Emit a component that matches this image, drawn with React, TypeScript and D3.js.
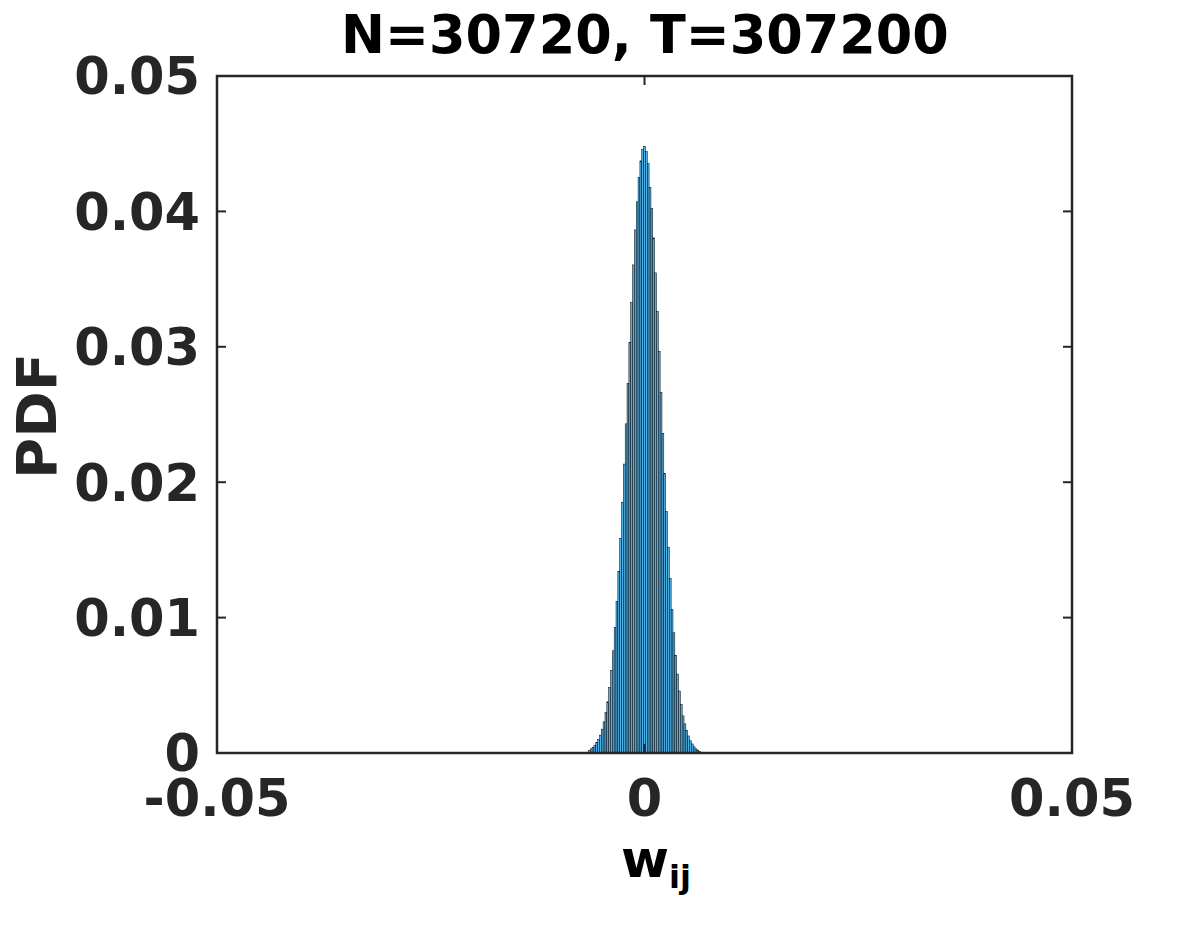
import React from "react";
import * as d3 from "d3";

const title = "N=30720, T=307200";
const yTicks = [0, 0.01, 0.02, 0.03, 0.04, 0.05];
const yTickLabels = ["0", "0.01", "0.02", "0.03", "0.04", "0.05"];
const xTicks = [-0.05, 0, 0.05];
const xTickLabels = ["-0.05", "0", "0.05"];

// PDF values of histogram bins, left to right (peak bin centred at 0)
const pdfValues = [
  0.00019, 0.00031, 0.00043, 0.00058, 0.00079, 0.00099, 0.00132, 0.00176, 0.0023, 0.00298,
  0.00378, 0.00482, 0.0061, 0.00755, 0.00927, 0.0112, 0.01342, 0.01585, 0.01852, 0.02134,
  0.02431, 0.0273, 0.03033, 0.03326, 0.03605, 0.03863, 0.04071, 0.04249, 0.04373, 0.04456,
  0.0448,
  0.04442, 0.04353, 0.04175, 0.0402, 0.03804, 0.03546, 0.03261, 0.02967, 0.02662, 0.0236,
  0.02066, 0.01784, 0.0152, 0.01289, 0.0106, 0.00888, 0.00719, 0.00583, 0.00458, 0.00357,
  0.00274, 0.00215, 0.00165, 0.00126, 0.0009, 0.00067, 0.00046, 0.00031, 0.00022, 0.00013,
];
const peakIndex = 30;
const binWidth = 0.000215;

const W = 1184;
const H = 927;
const L = 217, R = 1072, T = 76, B = 753;
const FONT = "'DejaVu Sans', sans-serif";
const FS = 51;
const TXT = "#262626";

export default function App() {
  const x = d3.scaleLinear().domain([-0.05, 0.05]).range([L, R]);
  const y = d3.scaleLinear().domain([0, 0.05]).range([B, T]);
  const bins = pdfValues.map((v, i) => {
    const c = (i - peakIndex) * binWidth;
    return { x0: c - binWidth / 2, x1: c + binWidth / 2, v };
  });
  return (
    <svg width={W} height={H} style={{ position: "absolute", left: 0, top: 0, background: "#fff" }}>
      <rect x={0} y={0} width={W} height={H} fill="#fff" />
      {bins.map((b, i) => (
        <rect
          key={i}
          x={x(b.x0)}
          y={y(b.v)}
          width={x(b.x1) - x(b.x0)}
          height={y(0) - y(b.v)}
          fill="#4fb0e6"
          stroke="#000"
          strokeWidth={0.5}
        />
      ))}
      {yTicks.map((t, i) => (
        <g key={"yt" + i}>
          <line x1={L} x2={L + 9} y1={y(t)} y2={y(t)} stroke={TXT} strokeWidth={2} />
          <line x1={R} x2={R - 9} y1={y(t)} y2={y(t)} stroke={TXT} strokeWidth={2} />
          <text x={200} y={y(t) + FS * 0.36} textAnchor="end" fontFamily={FONT} fontWeight="bold" fontSize={FS} fill={TXT}>
            {yTickLabels[i]}
          </text>
        </g>
      ))}
      {xTicks.map((t, i) => (
        <g key={"xt" + i}>
          <line x1={x(t)} x2={x(t)} y1={B} y2={B - 9} stroke={TXT} strokeWidth={2} />
          <line x1={x(t)} x2={x(t)} y1={T} y2={T + 9} stroke={TXT} strokeWidth={2} />
          <text x={x(t)} y={816} textAnchor="middle" fontFamily={FONT} fontWeight="bold" fontSize={FS} fill={TXT}>
            {xTickLabels[i]}
          </text>
        </g>
      ))}
      <rect x={L} y={T} width={R - L} height={B - T} fill="none" stroke={TXT} strokeWidth={2.5} />
      <text x={645} y={53} textAnchor="middle" fontFamily={FONT} fontWeight="bold" fontSize={52.5} fill="#000">
        {title}
      </text>
      <text
        transform={`translate(56, 416) rotate(-90)`}
        textAnchor="middle"
        fontFamily={FONT}
        fontWeight="bold"
        fontSize={56}
        fill={TXT}
      >
        PDF
      </text>
      <text x={621} y={877} fontFamily={FONT} fontWeight="bold" fontSize={52} fill="#000">
        w
        <tspan dy={11} fontSize={32}>ij</tspan>
      </text>
    </svg>
  );
}
